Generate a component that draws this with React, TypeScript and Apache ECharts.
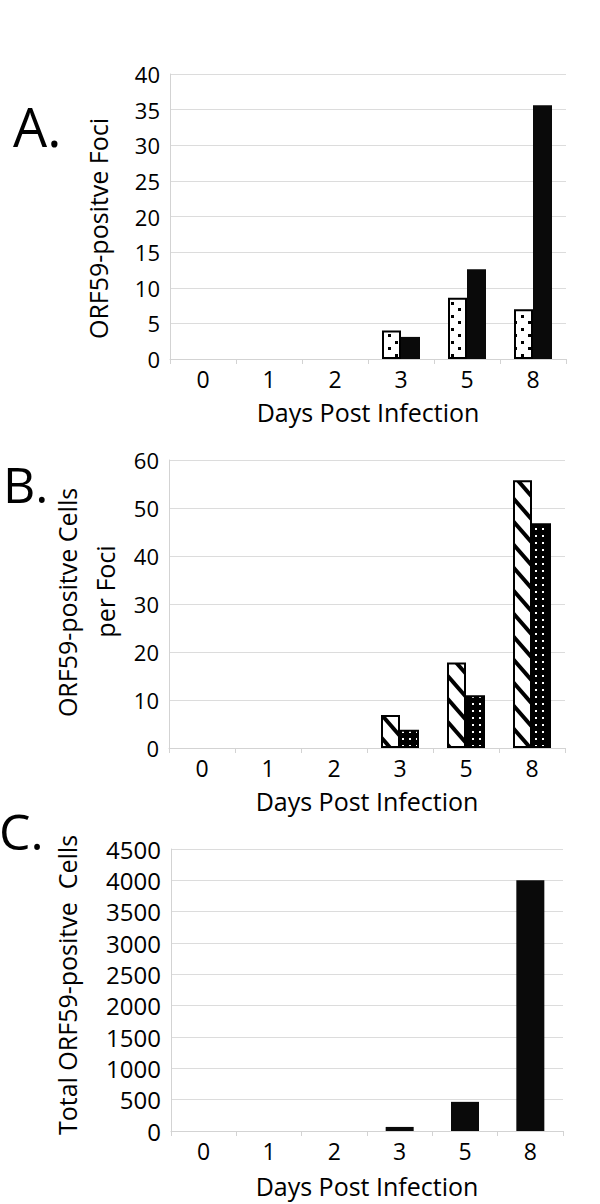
import React, { useEffect, useRef } from "react";
import * as echarts from "echarts";

const days = ["0", "1", "2", "3", "5", "8"];
// Panel A: ORF59-positive foci
const fociDotted = [0, 0, 0, 4.0, 8.6, 7.0];
const fociBlack = [0, 0, 0, 3.1, 12.6, 35.6];
// Panel B: ORF59-positive cells per focus
const cellsHatched = [0, 0, 0, 6.9, 17.8, 55.8];
const cellsDarkDots = [0, 0, 0, 3.8, 11.0, 46.8];
// Panel C: total ORF59-positive cells
const totalCells = [0, 0, 0, 65, 465, 4000];

const xTitle = "Days Post Infection";
const yTitleA = "ORF59-positve Foci";
const yTitleB1 = "ORF59-positve Cells";
const yTitleB2 = "per Foci";
const yTitleC = "Total ORF59-positve  Cells";
const panelLetters = ["A.", "B.", "C."];

const FONT = "'Open Sans', 'Noto Sans', sans-serif";

function makeCanvas(w: number, h: number, draw: (ctx: CanvasRenderingContext2D) => void) {
  const c = document.createElement("canvas");
  c.width = w;
  c.height = h;
  const ctx = c.getContext("2d")!;
  draw(ctx);
  return { image: c, repeat: "repeat", imageWidth: w, imageHeight: h } as any;
}

function lightDots() {
  return makeCanvas(14, 13, (ctx) => {
    ctx.fillStyle = "#fff";
    ctx.fillRect(0, 0, 14, 13);
    ctx.fillStyle = "#000";
    ctx.fillRect(3, 3, 3, 3);
    ctx.fillRect(10, 9, 3, 3);
  });
}

function darkDots() {
  return makeCanvas(7, 7, (ctx) => {
    ctx.fillStyle = "#000";
    ctx.fillRect(0, 0, 7, 7);
    ctx.fillStyle = "#fff";
    ctx.fillRect(3, 3, 2, 2);
  });
}

function hatch() {
  const w = 20;
  const h = 23;
  return makeCanvas(w, h, (ctx) => {
    ctx.fillStyle = "#fff";
    ctx.fillRect(0, 0, w, h);
    ctx.strokeStyle = "#000";
    ctx.lineWidth = 4;
    for (const k of [-1, 0, 1]) {
      ctx.beginPath();
      ctx.moveTo(k * w - w, -h);
      ctx.lineTo(k * w + 2 * w, 2 * h);
      ctx.stroke();
    }
  });
}

function items(values: number[], bordered: boolean) {
  return values.map((v) => ({
    value: v,
    itemStyle: { borderWidth: bordered && v > 0 ? 2 : 0 },
  }));
}

export default function App() {
  const ref = useRef<HTMLDivElement>(null);

  useEffect(() => {
    const chart = echarts.init(ref.current!, null, { renderer: "svg" });

    const grids = [
      { left: 170, top: 74, width: 396, height: 285 },
      { left: 169, top: 460, width: 396, height: 288 },
      { left: 171, top: 849, width: 392, height: 282 },
    ];
    const yConf = [
      { max: 40, interval: 5, size: 22 },
      { max: 60, interval: 10, size: 22 },
      { max: 4500, interval: 500, size: 24 },
    ];
    const nameGaps = [40, 40, 42];

    const xAxis = grids.map((_, i) => ({
      type: "category",
      gridIndex: i,
      data: days,
      boundaryGap: true,
      axisLine: { show: true, lineStyle: { color: "#d3d3d3", width: 1 } },
      axisTick: { show: true, length: 5, lineStyle: { color: "#d3d3d3" } },
      axisLabel: { color: "#000", fontSize: 23, margin: 8, fontFamily: FONT },
      name: xTitle,
      nameLocation: "middle",
      nameGap: nameGaps[i],
      nameTextStyle: { color: "#000", fontSize: 25, fontFamily: FONT },
    }));

    const yAxis = yConf.map((c, i) => ({
      type: "value",
      gridIndex: i,
      min: 0,
      max: c.max,
      interval: c.interval,
      axisLine: { show: true, lineStyle: { color: "#d3d3d3", width: 1 } },
      axisTick: { show: false },
      splitLine: { show: true, lineStyle: { color: "#dcdcdc", width: 1 } },
      axisLabel: {
        color: "#000",
        fontSize: c.size,
        margin: 10,
        fontFamily: FONT,
        formatter: (v: number) => String(v),
      },
    }));

    const series: any[] = [
      {
        type: "bar",
        xAxisIndex: 0,
        yAxisIndex: 0,
        data: items(fociDotted, true),
        barWidth: 19,
        barGap: "0%",
        itemStyle: { color: lightDots(), borderColor: "#000" },
        z: 3,
      },
      {
        type: "bar",
        xAxisIndex: 0,
        yAxisIndex: 0,
        data: items(fociBlack, false),
        barWidth: 19,
        barGap: "0%",
        itemStyle: { color: "#0a0a0a" },
        z: 2,
      },
      {
        type: "bar",
        xAxisIndex: 1,
        yAxisIndex: 1,
        data: items(cellsHatched, true),
        barWidth: 19,
        barGap: "0%",
        itemStyle: { color: hatch(), borderColor: "#000" },
        z: 3,
      },
      {
        type: "bar",
        xAxisIndex: 1,
        yAxisIndex: 1,
        data: items(cellsDarkDots, true),
        barWidth: 19,
        barGap: "0%",
        itemStyle: { color: darkDots(), borderColor: "#000" },
        z: 2,
      },
      {
        type: "bar",
        xAxisIndex: 2,
        yAxisIndex: 2,
        data: items(totalCells, false),
        barWidth: 28,
        itemStyle: { color: "#0a0a0a" },
      },
    ];

    const txt = (text: string, x: number, y: number, size: number, rot = 0, align = "center") => ({
      type: "text",
      x,
      y,
      rotation: rot,
      style: {
        text,
        fill: "#000",
        fontSize: size,
        fontFamily: FONT,
        textAlign: align,
        textVerticalAlign: "middle",
      },
    });

    const R = Math.PI / 2;
    const graphic = [
      txt(panelLetters[0], 13, 126, 54, 0, "left"),
      txt(panelLetters[1], 3, 484, 50, 0, "left"),
      txt(panelLetters[2], -1, 831, 50, 0, "left"),
      txt(yTitleA, 98, 228.5, 25, R),
      txt(yTitleB1, 66.5, 602.5, 25, R),
      txt(yTitleB2, 104.5, 591.5, 25, R),
      txt(yTitleC, 67, 985, 25, R),
    ];

    chart.setOption({
      animation: false,
      backgroundColor: "#fff",
      grid: grids,
      xAxis,
      yAxis,
      series,
      graphic,
    } as any);

    return () => chart.dispose();
  }, []);

  return (
    <div
      ref={ref}
      style={{ position: "absolute", left: 0, top: 0, width: 600, height: 1204, background: "#fff" }}
    />
  );
}
